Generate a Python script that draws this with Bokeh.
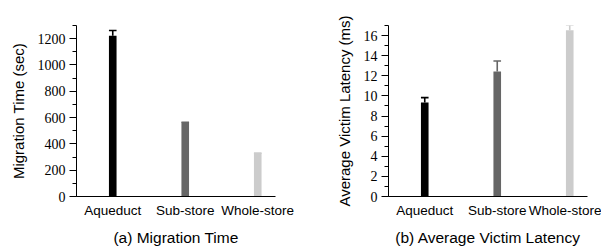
from bokeh.plotting import figure
from bokeh.layouts import row
from bokeh.models import Range1d, FixedTicker, ColumnDataSource
from bokeh.embed import file_html
from bokeh.resources import INLINE

categories = ["Aqueduct", "Sub-store", "Whole-store"]
colors = ["#000000", "#666666", "#cccccc"]

mig_time = [1222, 565, 330]
mig_err = [40, 0, 0]

latency = [9.35, 12.43, 16.53]
latency_err = [0.48, 1.04, 0.5]

mig_ticks = [0, 200, 400, 600, 800, 1000, 1200]
lat_ticks = [0, 2, 4, 6, 8, 10, 12, 14, 16]

BAR_W = 0.105


def make_panel(values, errs, ymax, ticks, minor_step, ylabel, title, border_left, border_right, label_standoff):
    n = len(categories)
    xs = [i + 0.5 for i in range(n)]
    p = figure(frame_width=199, frame_height=171, output_backend="svg", toolbar_location=None,
               x_range=Range1d(0, 2.745), y_range=Range1d(0, ymax),
               min_border_left=border_left, min_border_right=border_right,
               min_border_top=25, min_border_bottom=49)
    src = ColumnDataSource(dict(x=xs, top=values, color=colors,
                                etop=[v + e for v, e in zip(values, errs)],
                                x0=[x - BAR_W / 2 for x in xs], x1=[x + BAR_W / 2 for x in xs]))
    p.vbar(x="x", top="top", width=BAR_W, bottom=0, fill_color="color", line_color=None, source=src)
    p.segment(x0="x", y0="top", x1="x", y1="etop", line_color="color", line_width=1.6, source=src)
    p.segment(x0="x0", y0="etop", x1="x1", y1="etop", line_color="color", line_width=1.6, source=src)

    p.outline_line_color = None
    p.xgrid.visible = False
    p.ygrid.visible = False
    p.background_fill_color = None
    p.border_fill_color = None

    xa = p.xaxis[0]
    xa.ticker = FixedTicker(ticks=xs)
    xa.major_label_overrides = {x: c for x, c in zip(xs, categories)}
    xa.major_tick_line_color = None
    xa.minor_tick_line_color = None
    xa.major_tick_in = 0
    xa.major_tick_out = 0
    xa.minor_tick_in = 0
    xa.minor_tick_out = 0
    xa.axis_line_color = "#000000"
    xa.major_label_text_font = "Liberation Sans"
    xa.major_label_text_font_size = "13.5px"
    xa.major_label_text_color = "#000000"
    xa.major_label_standoff = 6
    xa.axis_label = title
    xa.axis_label_text_font = "Liberation Sans"
    xa.axis_label_text_font_style = "normal"
    xa.axis_label_text_font_size = "15.5px"
    xa.axis_label_text_color = "#000000"
    xa.axis_label_standoff = 8

    ya = p.yaxis[0]
    minors = []
    v = 0
    while v <= ymax + 1e-9:
        minors.append(v)
        v += minor_step
    ya.ticker = FixedTicker(ticks=ticks, minor_ticks=minors)
    ya.major_tick_in = 0
    ya.major_tick_out = 7
    ya.minor_tick_in = 0
    ya.minor_tick_out = 4
    ya.axis_line_color = "#000000"
    ya.major_tick_line_color = "#000000"
    ya.minor_tick_line_color = "#000000"
    ya.major_label_text_font = "Liberation Serif"
    ya.major_label_text_font_size = "14px"
    ya.major_label_text_color = "#000000"
    ya.major_label_standoff = 4
    ya.axis_label = ylabel
    ya.axis_label_text_font = "Liberation Sans"
    ya.axis_label_text_font_style = "normal"
    ya.axis_label_text_font_size = "15px"
    ya.axis_label_text_color = "#000000"
    ya.axis_label_standoff = label_standoff
    return p


p1 = make_panel(mig_time, mig_err, 1300, mig_ticks, 100, "Migration Time (sec)",
                "(a) Migration Time", 76, 29, 8)
p2 = make_panel(latency, latency_err, 17, lat_ticks, 1, "Average Victim Latency (ms)",
                "(b) Average Victim Latency", 84, 14, 8)

layout = row(p1, p2)
open("out.html", "w").write(file_html(layout, INLINE))
